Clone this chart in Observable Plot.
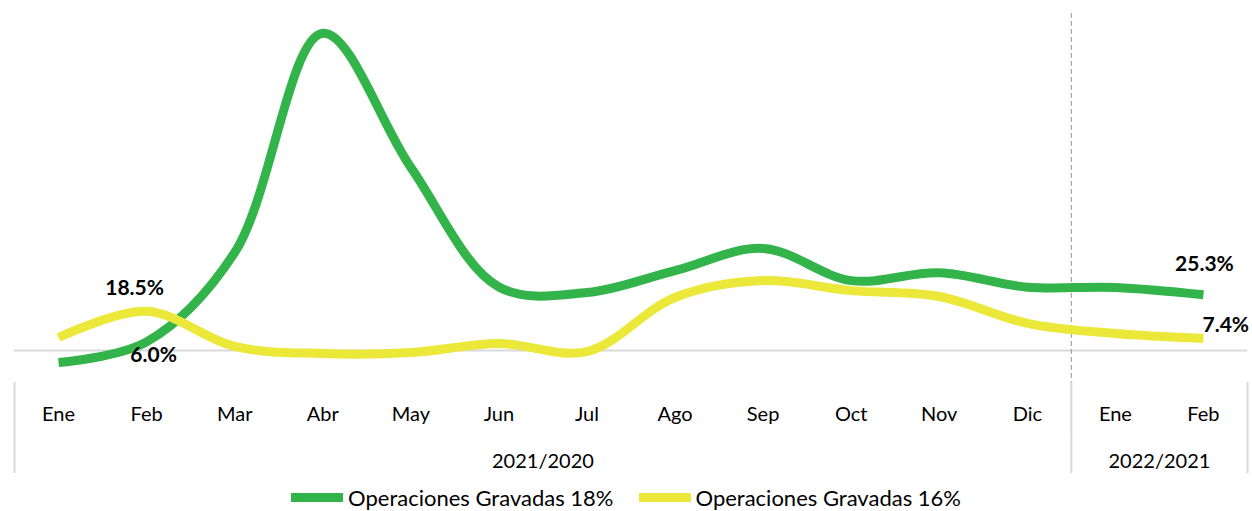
<!DOCTYPE html>
<html>
<head>
<meta charset="utf-8">
<script src="https://cdn.jsdelivr.net/npm/d3@7"></script>
<script src="https://cdn.jsdelivr.net/npm/@observablehq/plot@0.6"></script>
<style>
  html, body { margin: 0; padding: 0; background: #fff; }
  #chart svg { display: block; }
  .legend { display: flex; justify-content: center; align-items: center; height: 27px; line-height: 24px; font-family: Lato, sans-serif; font-size: 22px; color: #000; }
  .item { display: flex; align-items: center; }
  .sw { width: 52px; height: 9px; margin-right: 5px; }
  .gap { width: 25px; }
</style>
</head>
<body>
<div id="chart"></div>
<div class="legend" id="legend"></div>
<script>
const months = ["Ene","Feb","Mar","Abr","May","Jun","Jul","Ago","Sep","Oct","Nov","Dic","Ene","Feb"];
const gravadas18 = [-2.5, 6.0, 42.6, 132.5, 77.5, 28.5, 26.2, 35.2, 44.3, 31.1, 34.3, 28.4, 28.3, 25.3];
const gravadas16 = [7.8, 18.5, 4.1, 1.2, 1.6, 5.3, 2.0, 24.2, 31.1, 27.0, 24.6, 13.6, 9.4, 7.4];
const seriesNames = ["Operaciones Gravadas 18%", "Operaciones Gravadas 16%"];
const groupNames = ["2021/2020", "2022/2021"];
const groupStart = [0, 12];
const groupEnd = [11, 13];
const axisCross = 2.5;

const green = "#33b44a", yellow = "#ebe83a";
const idx = months.map((_, i) => i);
const rows = [
  ...idx.map(i => ({i, v: gravadas18[i], s: seriesNames[0]})),
  ...idx.map(i => ({i, v: gravadas16[i], s: seriesNames[1]}))
];
const groups = groupNames.map((g, k) => ({g, a: groupStart[k], b: groupEnd[k]}));
const separators = [groupStart[0] - 0.5, ...groupEnd.map(e => e + 0.5)];
const fmt = v => v.toFixed(1) + "%";

const chart = Plot.plot({
  width: 1252,
  height: 484,
  marginLeft: 14,
  marginRight: 5,
  marginTop: 10,
  marginBottom: 104,
  style: {fontFamily: "Lato, sans-serif", fontSize: "20px", color: "#000", background: "#fff"},
  x: {type: "linear", domain: [-0.5, months.length - 0.5]},
  y: {domain: [-9.84, 141.8], axis: null},
  color: {domain: seriesNames, range: [green, yellow]},
  marks: [
    Plot.ruleY([axisCross], {stroke: "#d9d9d9", strokeWidth: 2}),
    Plot.ruleX([groupEnd[0] + 0.5], {stroke: "#a6a6a6", strokeWidth: 1.2, strokeDasharray: "5,3", insetTop: 3, insetBottom: -58}),
    Plot.ruleX(separators, {stroke: "#d9d9d9", strokeWidth: 2, insetTop: 372, insetBottom: -93}),
    Plot.axisX({ticks: idx, tickFormat: i => months[i], tickSize: 0, tickPadding: 26, fontSize: 20, label: null}),
    Plot.text(groups, {x: d => (d.a + d.b) / 2, text: "g", frameAnchor: "bottom", dy: 87, fontSize: 20}),
    Plot.line(rows, {x: "i", y: "v", z: "s", stroke: "s", strokeWidth: 9, curve: "catmull-rom", strokeLinecap: "butt"}),
    Plot.text([1], {x: d => d, y: d => gravadas16[d], text: d => fmt(gravadas16[d]), dx: -12, dy: -23, fontWeight: "bold", fontSize: 21}),
    Plot.text([1], {x: d => d, y: d => gravadas18[d], text: d => fmt(gravadas18[d]), dx: 7, dy: 13, fontWeight: "bold", fontSize: 21}),
    Plot.text([13], {x: d => d, y: d => gravadas18[d], text: d => fmt(gravadas18[d]), dx: 1, dy: -30, fontWeight: "bold", fontSize: 21}),
    Plot.text([13], {x: d => d, y: d => gravadas16[d], text: d => fmt(gravadas16[d]), dx: -1, dy: -13, textAnchor: "start", fontWeight: "bold", fontSize: 21})
  ]
});
document.getElementById("chart").appendChild(chart);

const legend = document.getElementById("legend");
seriesNames.forEach((name, k) => {
  if (k > 0) { const g = document.createElement("div"); g.className = "gap"; legend.appendChild(g); }
  const it = document.createElement("div"); it.className = "item";
  const sw = document.createElement("div"); sw.className = "sw"; sw.style.background = k === 0 ? green : yellow;
  const tx = document.createElement("span"); tx.textContent = name;
  it.appendChild(sw); it.appendChild(tx); legend.appendChild(it);
});
</script>
</body>
</html>
